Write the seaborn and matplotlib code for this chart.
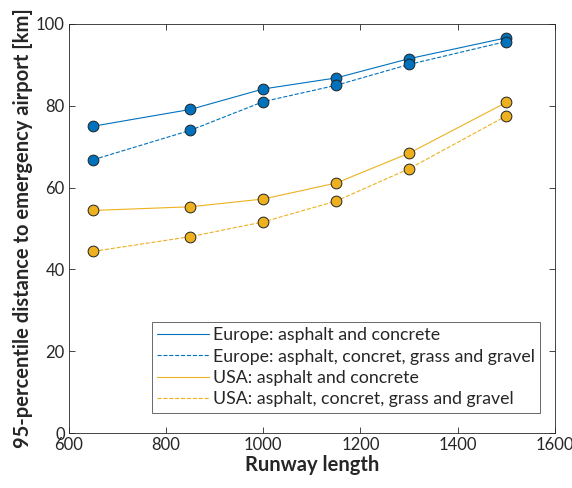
import pandas as pd
import matplotlib.pyplot as plt
import seaborn as sns

runway = [650, 850, 1000, 1150, 1300, 1500]
europe_paved = [75.0, 79.1, 84.1, 86.8, 91.5, 96.6]
europe_all = [66.8, 74.0, 81.0, 85.0, 90.1, 95.7]
usa_paved = [54.4, 55.3, 57.2, 61.1, 68.4, 80.8]
usa_all = [44.4, 48.0, 51.6, 56.7, 64.6, 77.5]

labels = ["Europe: asphalt and concrete",
          "Europe: asphalt, concret, grass and gravel",
          "USA: asphalt and concrete",
          "USA: asphalt, concret, grass and gravel"]

blue = "#0072BD"
yellow = "#EDB120"

sns.set_style("ticks")
plt.rcParams['font.family'] = ['Lato', 'DejaVu Sans']

fig = plt.figure(figsize=(5.72, 4.88), dpi=100)
ax = fig.add_axes([0.1206, 0.1127, 0.8494, 0.8383])

series = [(europe_paved, blue, "-"), (europe_all, blue, "--"),
          (usa_paved, yellow, "-"), (usa_all, yellow, "--")]

for (vals, col, ls), lab in zip(series, labels):
    df = pd.DataFrame({"x": runway, "y": vals})
    sns.lineplot(data=df, x="x", y="y", ax=ax, color=col, linestyle=ls,
                 linewidth=0.8, label=lab)
    sns.scatterplot(data=df, x="x", y="y", ax=ax, color=col, s=60,
                    edgecolor="#222222", linewidth=0.7, zorder=3, legend=False)

ax.set_xlim(600, 1600)
ax.set_ylim(0, 100)
ax.set_xticks([600, 800, 1000, 1200, 1400, 1600])
ax.set_yticks([0, 20, 40, 60, 80, 100])
ax.tick_params(direction="in", top=True, right=True, labelsize=12,
               colors="#262626", length=4, width=0.6, pad=3)
for s in ax.spines.values():
    s.set_color("#262626")
    s.set_linewidth(0.6)

ax.set_xlabel("Runway length", fontsize=14.5, fontweight="bold", labelpad=1)
ax.set_ylabel("95-percentile distance to emergency airport [km]",
              fontsize=14.5, fontweight="bold", labelpad=2)

leg = ax.legend(loc="lower right", bbox_to_anchor=(0.97, 0.05), fontsize=12.8,
                frameon=True, fancybox=False, edgecolor="#262626",
                handlelength=2.9, handletextpad=0.25, labelspacing=0.3,
                borderpad=0.3, borderaxespad=0)
leg.get_frame().set_linewidth(0.6)

plt.savefig("out.png", dpi=100)
plt.close()
